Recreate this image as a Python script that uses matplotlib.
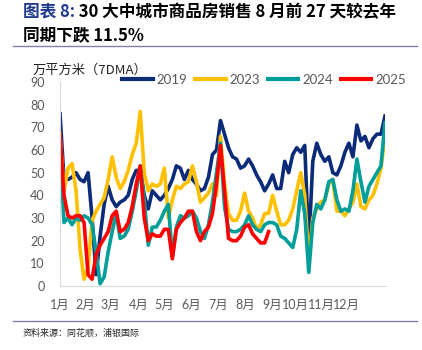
import numpy as np
import matplotlib.pyplot as plt
from matplotlib.lines import Line2D

# data, one point about every 4.5 days
y2019 = [76, 47, 47, 48, 50, 47, 46, 50, 30, 5, 22, 36, 44, 38, 35, 37, 38, 40, 47, 51,
         51, 40, 34, 42, 40, 38, 40, 43, 47, 53, 52, 47, 51, 47, 45, 42, 43, 48, 58, 60,
         73, 67, 61, 57, 56, 52, 53, 56, 53, 49, 46, 42, 45, 49, 43, 43, 55, 50, 58, 61,
         59, 62, 17, 55, 63, 58, 55, 57, 50, 49, 53, 59, 63, 57, 71, 64, 66, 61, 65, 67,
         67, 75]
y2023 = [67, 42, 52, 54, 42, 16, 3, 8, 29, 33, 36, 39, 47, 57, 48, 43, 46, 51, 58, 63,
         77, 50, 42, 45, 44, 45, 52, 30, 38, 44, 43, 45, 46, 53, 46, 37, 39, 41, 45, 40,
         66, 45, 32, 29, 29, 33, 41, 33, 30, 25, 27, 32, 32, 40, 33, 27, 27, 29, 34, 42,
         50, 40, 11, 30, 34, 37, 38, 45, 47, 33, 33, 31, 34, 37, 45, 35, 34, 38, 40, 45,
         52, 66]
y2024 = [62, 28, 30, 27, 30, 29, 31, 30, 27, 15, 1, 4, 15, 24, 32, 21, 22, 25, 33, 42,
         53, 38, 18, 26, 26, 29, 33, 36, 13, 26, 31, 30, 31, 33, 30, 24, 21, 27, 37, 50,
         63, 35, 25, 24, 24, 25, 27, 31, 27, 25, 24, 27, 28, 28, 27, 22, 21, 19, 17, 25,
         42, 32, 6, 28, 36, 34, 38, 46, 47, 38, 33, 34, 33, 42, 56, 46, 37, 44, 47, 50,
         53, 72]
y2025 = [67, 40, 31, 30, 31, 31, 28, 5, 3, 14, 18, 21, 24, 31, 33, 24, 25, 28, 35, 45,
         53, 30, 20, 23, 22, 22, 25, 25, 12, 25, 28, 30, 33, 33, 24, 20, 24, 26, 32, 45,
         62, 42, 21, 20, 20, 22, 26, 27, 23, 21, 19, 19, 24]

series = [("2019", y2019, "#0B2A78"),
          ("2023", y2023, "#FFC000"),
          ("2024", y2024, "#009E99"),
          ("2025", y2025, "#FF0000")]

months = ["1月", "2月", "3月", "4月", "5月", "6月", "7月", "8月", "9月", "10月", "11月", "12月"]
month_pos = [0, 28, 57, 88, 117, 147, 177, 208, 238, 264, 293, 321]
step = 4.5

cjk = ["Noto Sans CJK SC", "DejaVu Sans"]
num_font = ["Lato", "Noto Sans CJK SC"]

fig = plt.figure(figsize=(4.22, 3.5), dpi=100)
ax = fig.add_axes([60 / 422, 1 - 286 / 350, 325 / 422, 204 / 350])

for name, vals, col in series:
    x = np.arange(len(vals)) * step
    ax.plot(x, vals, color=col, lw=2.6, label=name, solid_joinstyle="round")

ax.set_xlim(0, (len(y2019) - 1) * step)
ax.set_ylim(0, 90)
ax.set_yticks(range(0, 91, 10))
ax.set_xticks(month_pos)
ax.set_xticklabels(months, family=num_font)
for lab in ax.get_yticklabels():
    lab.set_family(num_font)
ax.tick_params(axis="both", length=0, colors="#595959", labelsize=9)
ax.tick_params(axis="y", pad=11)
ax.tick_params(axis="x", pad=9)
for s in ["top", "right"]:
    ax.spines[s].set_visible(False)
for s in ["left", "bottom"]:
    ax.spines[s].set_color("#d9d9d9")
    ax.spines[s].set_linewidth(0.8)

leg = fig.legend(loc="center", bbox_to_anchor=(264 / 422, 1 - 80 / 350), ncol=4,
                 frameon=False, handlelength=2.3, handletextpad=0.3,
                 columnspacing=0.6, prop={"family": num_font, "size": 9.5})
for t in leg.get_texts():
    t.set_color("#595959")
for h in leg.legend_handles:
    h.set_linewidth(3)

fig.text(33 / 422, 1 - 70 / 350, "万平方米（7DMA）", family=cjk, fontsize=9.5,
         color="#222222", va="center")

# title
t1 = fig.text(23 / 422, 1 - 12 / 350, "图表 8:", family=cjk, fontsize=12,
              fontweight="bold", color="#1F3A8A", va="center")
ax.annotate(" 30 大中城市商品房销售 8 月前 27 天较去年", xy=(1, 0.5), xycoords=t1,
            va="center", ha="left", family=cjk, fontsize=12, fontweight="bold",
            color="black", annotation_clip=False)
fig.text(23 / 422, 1 - 35 / 350, "同期下跌 11.5%", family=cjk, fontsize=12,
         fontweight="bold", color="black", va="center")

fig.add_artist(Line2D([13 / 422, 417 / 422], [1 - 46 / 350] * 2, color="#8080a8", lw=1))
fig.add_artist(Line2D([13 / 422, 417 / 422], [1 - 321 / 350] * 2, color="#8080a8", lw=1))

fig.text(23 / 422, 1 - 333 / 350, "资料来源：同花顺，浦银国际", family=cjk, fontsize=6.5,
         color="#222222", va="center")

fig.savefig("out.png", dpi=100, facecolor="white")
